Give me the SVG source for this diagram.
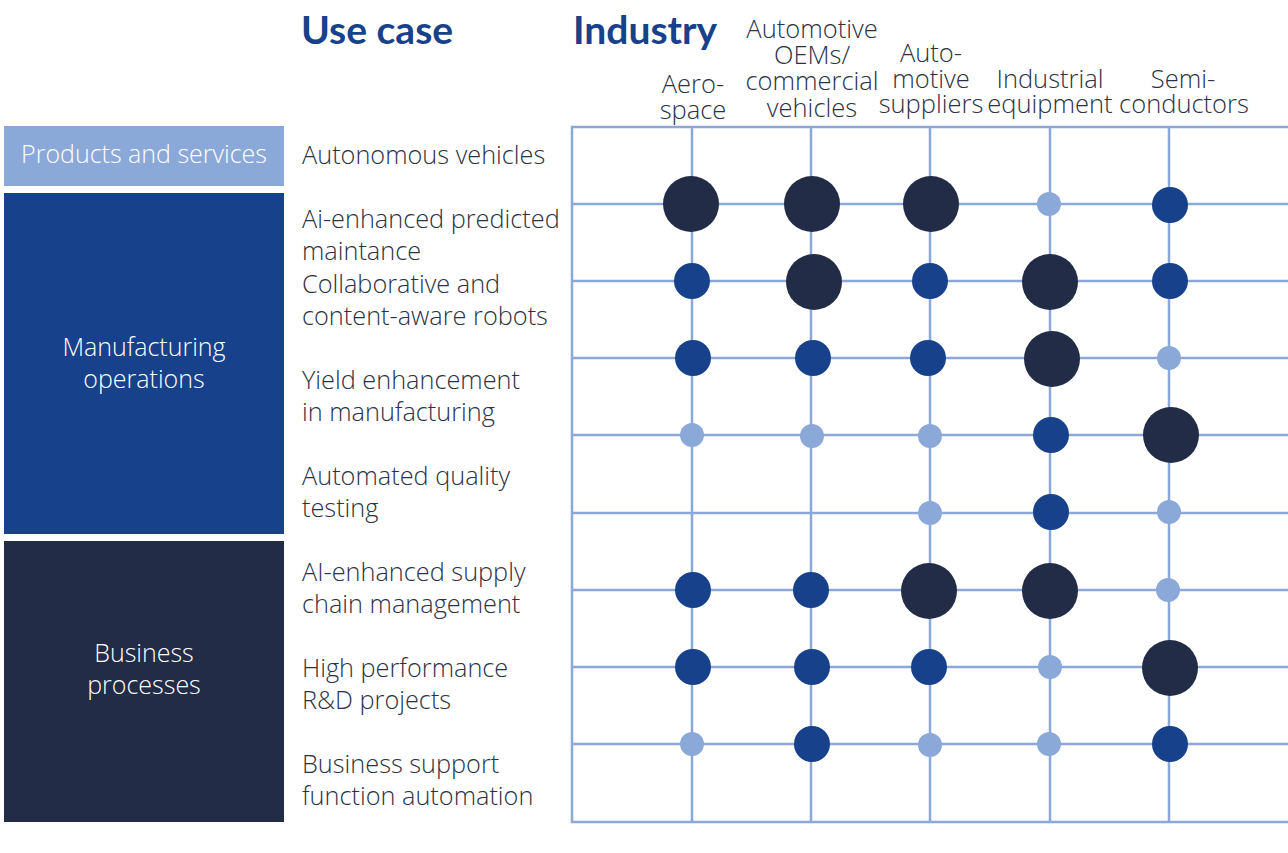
<svg xmlns="http://www.w3.org/2000/svg" width="1288" height="853" viewBox="0 0 1288 853">
<style>
.t{font-family:"Open Sans",Lato,"Liberation Sans",sans-serif;font-weight:300;font-size:25.3px;fill:#2b3245}
.hd{font-size:25.5px}
.h{font-family:Lato,"Open Sans","Liberation Sans",sans-serif;font-weight:700;font-size:39px;fill:#17418a}
.w{font-family:"Open Sans",Lato,"Liberation Sans",sans-serif;font-weight:300;font-size:25px;fill:#ffffff}
.c{text-anchor:middle}
.g{stroke:#8aa8d8;stroke-width:2.5;fill:none}
.L{fill:#222c47}
.M{fill:#17418a}
.S{fill:#8aa8d8}
</style>
<rect width="1288" height="853" fill="#ffffff"/>
<g id="titles">
<text class="h" x="301" y="44">Use case</text>
<text class="h" x="573" y="44">Industry</text>
</g>
<g id="col-headers">
<text class="t hd c" x="693" y="93">Aero-</text>
<text class="t hd c" x="693" y="119">space</text>
<text class="t hd c" x="812" y="38">Automotive</text>
<text class="t hd c" x="812" y="64">OEMs/</text>
<text class="t hd c" x="812" y="90">commercial</text>
<text class="t hd c" x="812" y="117">vehicles</text>
<text class="t hd c" x="931" y="62">Auto-</text>
<text class="t hd c" x="931" y="88">motive</text>
<text class="t hd c" x="931" y="113">suppliers</text>
<text class="t hd c" x="1050" y="88">Industrial</text>
<text class="t hd c" x="1050" y="113">equipment</text>
<text class="t hd c" x="1183" y="88">Semi-</text>
<text class="t hd c" x="1184" y="113">conductors</text>
</g>
<g id="category-products">
<rect x="4" y="126" width="280" height="60" fill="#8aa8d8"/>
<text class="w c" x="144" y="163">Products and services</text>
</g>
<g id="category-manufacturing">
<rect x="4" y="193" width="280" height="341" fill="#17418a"/>
<text class="w c" x="144" y="356">Manufacturing</text>
<text class="w c" x="144" y="388">operations</text>
</g>
<g id="category-business">
<rect x="4" y="541" width="280" height="281" fill="#222c47"/>
<text class="w c" x="144" y="662">Business</text>
<text class="w c" x="144" y="694">processes</text>
</g>
<g id="use-cases">
<text class="t" x="302" y="164">Autonomous vehicles</text>
<text class="t" x="302" y="228">Ai-enhanced predicted</text>
<text class="t" x="302" y="260">maintance</text>
<text class="t" x="302" y="293">Collaborative and</text>
<text class="t" x="302" y="325">content-aware robots</text>
<text class="t" x="302" y="389">Yield enhancement</text>
<text class="t" x="302" y="421">in manufacturing</text>
<text class="t" x="302" y="485">Automated quality</text>
<text class="t" x="302" y="517">testing</text>
<text class="t" x="302" y="581">AI-enhanced supply</text>
<text class="t" x="302" y="613">chain management</text>
<text class="t" x="302" y="677">High performance</text>
<text class="t" x="302" y="709">R&amp;D projects</text>
<text class="t" x="302" y="773">Business support</text>
<text class="t" x="302" y="805">function automation</text>
</g>
<g id="grid">
<path class="g" stroke-width="3" d="M1288 127H572V822H1288"/>
<path class="g" d="M572 204H1288M572 281H1288M572 358H1288M572 435H1288M572 513H1288M572 590H1288M572 667H1288M572 744H1288"/>
<path class="g" d="M692 127V822M811 127V822M930 127V822M1050 127V822M1169 127V822"/>
</g>
<g id="dots">
<circle class="L" cx="691" cy="204" r="28"/>
<circle class="L" cx="812" cy="204" r="28"/>
<circle class="L" cx="931" cy="204" r="28"/>
<circle class="S" cx="1049" cy="204" r="12"/>
<circle class="M" cx="1170" cy="205" r="18"/>

<circle class="M" cx="692" cy="281" r="18"/>
<circle class="L" cx="814" cy="282" r="28"/>
<circle class="M" cx="930" cy="281" r="18"/>
<circle class="L" cx="1050" cy="282" r="28"/>
<circle class="M" cx="1170" cy="281" r="18"/>

<circle class="M" cx="693" cy="358" r="18"/>
<circle class="M" cx="813" cy="358" r="18"/>
<circle class="M" cx="928" cy="358" r="18"/>
<circle class="L" cx="1052" cy="359" r="28"/>
<circle class="S" cx="1169" cy="358" r="12"/>

<circle class="S" cx="692" cy="435" r="12"/>
<circle class="S" cx="812" cy="436" r="12"/>
<circle class="S" cx="930" cy="436" r="12"/>
<circle class="M" cx="1051" cy="435" r="18"/>
<circle class="L" cx="1171" cy="435" r="28"/>

<circle class="S" cx="930" cy="513" r="12"/>
<circle class="M" cx="1051" cy="512" r="18"/>
<circle class="S" cx="1169" cy="512" r="12"/>

<circle class="M" cx="693" cy="590" r="18"/>
<circle class="M" cx="811" cy="590" r="18"/>
<circle class="L" cx="929" cy="591" r="28"/>
<circle class="L" cx="1050" cy="591" r="28"/>
<circle class="S" cx="1168" cy="590" r="12"/>

<circle class="M" cx="693" cy="667" r="18"/>
<circle class="M" cx="812" cy="667" r="18"/>
<circle class="M" cx="929" cy="667" r="18"/>
<circle class="S" cx="1050" cy="667" r="12"/>
<circle class="L" cx="1170" cy="668" r="28"/>

<circle class="S" cx="692" cy="744" r="12"/>
<circle class="M" cx="812" cy="744" r="18"/>
<circle class="S" cx="930" cy="745" r="12"/>
<circle class="S" cx="1049" cy="744" r="12"/>
<circle class="M" cx="1170" cy="744" r="18"/>
</g>
</svg>
